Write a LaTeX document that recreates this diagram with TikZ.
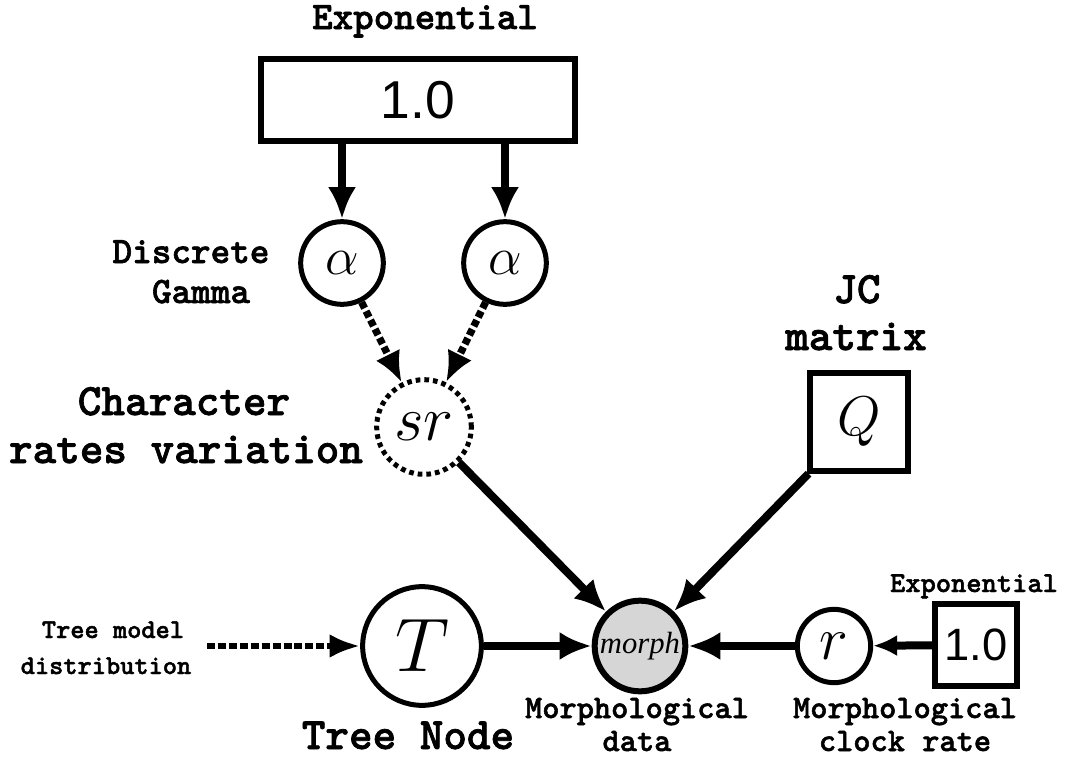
\RequirePackage{fix-cm}
\documentclass[tikz,border=0pt]{standalone}
\usepackage{fontspec}
\newfontfamily\labfont{lmmonolt10-bold.otf}[FakeBold=1.6]
\newfontfamily\numfont{Liberation Sans}
\newfontfamily\obsfont{Liberation Serif}
\usetikzlibrary{arrows.meta}
\definecolor{obsgrey}{RGB}{214,214,214}

\tikzset{
  varnode/.style={circle, draw, line width=3.75pt, inner sep=0pt, fill=white},
  constbox/.style={rectangle, draw, line width=4.5pt, inner sep=0pt, fill=white},
  detnode/.style={circle, draw, line width=3.75pt, inner sep=0pt,
                  dash pattern=on 3.5pt off 3pt},
  obsnode/.style={circle, draw, line width=4.5pt, inner sep=0pt, fill=obsgrey},
  conn/.style={line width=6pt, -{Latex[length=24pt,width=21pt]}},
  smallconn/.style={line width=6pt, -{Latex[length=18pt,width=16pt]}},
  detconn/.style={line width=5.5pt, dash pattern=on 5pt off 2.5pt,
                  -{Latex[length=23pt,width=20pt]}},
  priorconn/.style={line width=4.5pt, dash pattern=on 6pt off 2.2pt,
                  -{Latex[length=23pt,width=18pt]}},
  lab/.style={inner sep=0pt, anchor=base},
  bigtxt/.style={font=\labfont\fontsize{33.7}{34}\selectfont},
  exptxt/.style={font=\labfont\fontsize{29.3}{30}\selectfont},
  gamtxt/.style={font=\labfont\fontsize{28}{28}\selectfont},
  morphtxt/.style={font=\labfont\fontsize{24.6}{25}\selectfont},
  smexptxt/.style={font=\labfont\fontsize{21.8}{22}\selectfont},
  treetxt/.style={font=\labfont\fontsize{20.3}{21}\selectfont},
}

\begin{document}
\begin{tikzpicture}[x=0.75pt, y=-0.75pt]
\useasboundingbox (0,0) rectangle (1065,757);

% --- model nodes ---
\node[constbox, minimum width=236pt, minimum height=61pt,
      font=\numfont\fontsize{40}{40}\selectfont] (top) at (418,100) {1.0};
\node[varnode, minimum size=62pt, font=\fontsize{40}{40}\selectfont] (aL) at (342,263) {$\alpha$};
\node[varnode, minimum size=62pt, font=\fontsize{40}{40}\selectfont] (aR) at (505,263) {$\alpha$};
\node[detnode, minimum size=71pt, font=\fontsize{48}{48}\selectfont] (sr) at (424,427) {$sr$};
\node[constbox, minimum size=73pt, font=\fontsize{42}{42}\selectfont] (Q) at (859,422) {$Q$};
\node[varnode, minimum size=89pt, font=\fontsize{57}{57}\selectfont] (T) at (422,646) {$T$};
\node[obsnode, minimum size=68pt, font=\obsfont\itshape\fontsize{23}{23}\selectfont] (morph) at (640,646) {morph};
\node[varnode, minimum size=55pt, font=\fontsize{46}{46}\selectfont] (r) at (834,646) {$r$};
\node[constbox, minimum width=61.5pt, minimum height=61pt,
      font=\numfont\fontsize{34}{34}\selectfont] (rate) at (976,645) {1.0};
\coordinate (treeprior) at (207,646);

% --- labels ---
\node[lab, exptxt] (lexp) at (425,29) {Exponential};
\node[lab, gamtxt] (lgam1) at (191,263) {Discrete};
\node[lab, gamtxt] (lgam2) at (201,303) {Gamma};
\node[lab, bigtxt] (lchr1) at (184,415) {Character};
\node[lab, bigtxt] (lchr2) at (186,463) {rates variation};
\node[lab, bigtxt] (ljc1) at (857,303) {JC};
\node[lab, bigtxt] (ljc2) at (856,350) {matrix};
\node[lab, treetxt] (ltree1) at (113,638) {Tree model};
\node[lab, treetxt] (ltree2) at (106,674) {distribution};
\node[lab, bigtxt] (ltn) at (408,749) {Tree Node};
\node[lab, morphtxt] (lmd1) at (637,718) {Morphological};
\node[lab, morphtxt] (lmd2) at (637,751) {data};
\node[lab, morphtxt] (lmc1) at (905,718) {Morphological};
\node[lab, morphtxt] (lmc2) at (905,751) {clock rate};
\node[lab, smexptxt] (lexp2) at (974,592) {Exponential};

% --- connectors ---
\draw[conn] (top.south -| aL) -- (aL.north);
\draw[conn] (top.south -| aR) -- (aR.north);
\draw[detconn] (aL) -- (sr);
\draw[detconn] (aR) -- (sr);
\draw[conn] (sr) -- (morph);
\draw[conn] (Q) -- (morph);
\draw[conn] (T) -- (morph);
\draw[conn] (r) -- (morph);
\draw[smallconn] (rate) -- (r);
\draw[priorconn] (treeprior) -- (T);
\end{tikzpicture}
\end{document}
